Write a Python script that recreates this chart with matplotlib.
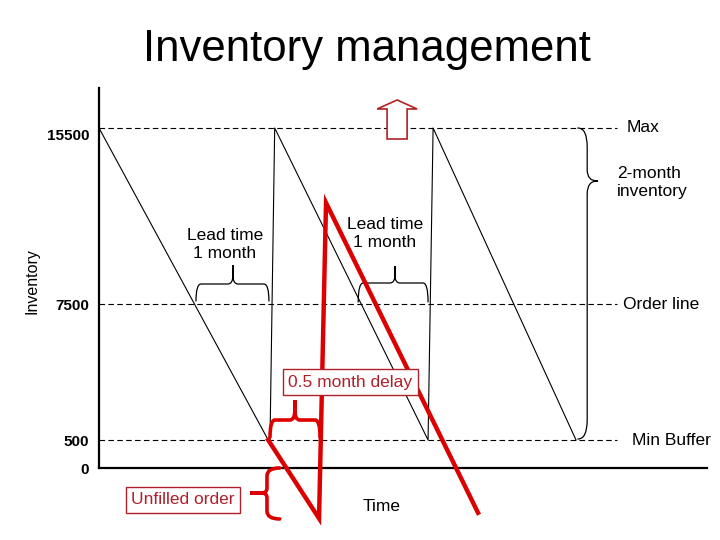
import numpy as np
import matplotlib
matplotlib.use("Agg")
import matplotlib.pyplot as plt
import matplotlib.transforms as mtransforms
from matplotlib.path import Path
from matplotlib.patches import PathPatch, FancyArrow

plt.rcParams["font.family"] = ["Liberation Sans", "DejaVu Sans"]

# ─── Data ────────────────────────────────────────────────────────────────────
# inventory levels marked on the axis
levels = [0, 500, 7500, 15500]
level_labels = ["0", "500", "7500", "15500"]
level_names = ["", "Min Buffer", "Order line", "Max"]

# the diagram's inventory axis is not linear: knots of the drawn height (px above the time axis)
scale_inv = [-2000, 0, 500, 7500, 15500, 20000]
scale_pos = [-112, 0, 28, 164, 340, 439]

# planned inventory sawtooth (time in months)
saw_t = [0, 2.35, 2.375, 2.44, 4.57, 4.64, 6.625]
saw_y = [15500, 500, 500, 15500, 500, 15500, 500]

# delayed delivery path (red)
late_t = [2.35, 3.056, 3.153, 5.264]
late_y = [500, -900, 12100, -800]

RED = "#DD0000"
DARK_RED = "#B0202A"


def fwd(y):
    return np.interp(y, scale_inv, scale_pos)


def inv(p):
    return np.interp(p, scale_pos, scale_inv)


def hbrace(ax, x0, x1, xm, y_end, y_bar, y_stem, y_tip, rx, **kw):
    verts = [(x0, y_end), (x0, y_bar), (x0 + rx, y_bar),
             (xm - rx, y_bar), (xm, y_bar), (xm, y_stem),
             (xm, y_tip), (xm, y_stem),
             (xm, y_bar), (xm + rx, y_bar),
             (x1 - rx, y_bar), (x1, y_bar), (x1, y_end)]
    codes = [Path.MOVETO, Path.CURVE3, Path.CURVE3,
             Path.LINETO, Path.CURVE3, Path.CURVE3,
             Path.LINETO, Path.LINETO,
             Path.CURVE3, Path.CURVE3,
             Path.LINETO, Path.CURVE3, Path.CURVE3]
    ax.add_patch(PathPatch(Path(verts, codes), fill=False, capstyle="round", **kw))


def vbrace(ax, x_end, x_bar, x_stem, x_tip, y_lo, y_lo_bar, y_tip_lo, y_tip, y_tip_hi, y_hi_bar, y_hi, **kw):
    verts = [(x_end, y_lo), (x_bar, y_lo), (x_bar, y_lo_bar),
             (x_bar, y_tip_lo), (x_bar, y_tip), (x_stem, y_tip),
             (x_tip, y_tip), (x_stem, y_tip),
             (x_bar, y_tip), (x_bar, y_tip_hi),
             (x_bar, y_hi_bar), (x_bar, y_hi), (x_end, y_hi)]
    codes = [Path.MOVETO, Path.CURVE3, Path.CURVE3,
             Path.LINETO, Path.CURVE3, Path.CURVE3,
             Path.LINETO, Path.LINETO,
             Path.CURVE3, Path.CURVE3,
             Path.LINETO, Path.CURVE3, Path.CURVE3]
    ax.add_patch(PathPatch(Path(verts, codes), fill=False, capstyle="round", **kw))


fig = plt.figure(figsize=(7.2, 5.4), dpi=100)
ax = fig.add_axes([99 / 720, 10 / 540, 608 / 720, 442 / 540])
ax.set_yscale("function", functions=(fwd, inv))
ax.set_xlim(0, 8.444)
ax.set_ylim(-1107, 17318)

# axes styling
for s in ["top", "right"]:
    ax.spines[s].set_visible(False)
ax.spines["bottom"].set_position(("data", 0))
ax.spines["bottom"].set_linewidth(1.6)
ax.spines["left"].set_linewidth(1.6)
ax.spines["left"].set_bounds(0, 17318)
ax.set_xticks([])
ax.set_yticks(levels)
ax.set_yticklabels(level_labels, fontsize=11, fontweight="bold")
ax.yaxis.set_minor_locator(matplotlib.ticker.NullLocator())
ax.tick_params(axis="y", length=0, pad=7)
ax.patch.set_alpha(0)
# top label sits a little under its line in the original
top_lbl = ax.get_yticklabels()[-1]
top_lbl.set_transform(top_lbl.get_transform()
                      + mtransforms.ScaledTranslation(0, -7 / 100, fig.dpi_scale_trans))

# dashed reference levels
ax.hlines(levels[1:], 0, 7.2, colors="black", linewidth=0.8, linestyles=(0, (5, 3)))
for lv, name in zip(levels[1:], level_names[1:]):
    xoff = {"Max": 7.33, "Order line": 7.28, "Min Buffer": 7.40}[name]
    ax.text(xoff, lv, name, fontsize=12.5, ha="left", va="center")

# sawtooth
ax.plot(saw_t, saw_y, color="black", linewidth=0.8)

# braces (black)
hbrace(ax, 1.347, 2.36, 1.86, 7636, 8409, 8818, 9273, 0.07, color="black", linewidth=0.9)
hbrace(ax, 3.60, 4.57, 4.11, 7591, 8455, 8818, 9227, 0.07, color="black", linewidth=0.9)
vbrace(ax, 6.65, 6.78, 6.92, 6.93, 551, 1529, 12500, 13091, 13600, 14636, 15500,
       color="black", linewidth=0.9)

ax.text(1.75, 10182, "Lead time\n1 month", fontsize=12.5, ha="center", va="center", linespacing=1.25)
ax.text(3.97, 10727, "Lead time\n1 month", fontsize=12.5, ha="center", va="center", linespacing=1.25)
ax.text(7.19, 13045, "2-month\ninventory", fontsize=12.5, ha="left", va="center", linespacing=1.25)

# delayed delivery (red)
ax.plot(late_t, late_y, color=RED, linewidth=3.2, solid_joinstyle="miter", zorder=4)
hbrace(ax, 2.375, 3.07, 2.72, 654, 1529, 2044, 2559, 0.07, color=RED, linewidth=2.6, zorder=4)
vbrace(ax, 2.51, 2.333, 2.264, 2.10, -910, -767, -535, -446, -357, -143, 0,
       color=RED, linewidth=2.6, zorder=4)

box = dict(boxstyle="square,pad=0.3", facecolor="white", edgecolor=DARK_RED, linewidth=1.0)
ax.text(3.49, 3485, "0.5 month delay", fontsize=12.5, color=DARK_RED, ha="center", va="center",
        bbox=box, zorder=5)
ax.text(1.167, -571, "Unfilled order", fontsize=12.5, color=DARK_RED, ha="center", va="center",
        bbox=box, zorder=5)

# hollow "raise max" arrow
ax.add_patch(FancyArrow(4.14, 15000, 0, 1773, width=0.278, head_width=0.556, head_length=409,
                        length_includes_head=True, facecolor="white", edgecolor="#B22222",
                        linewidth=1.2, zorder=5))

ax.text(3.93, -679, "Time", fontsize=12.5, ha="center", va="center")

fig.text(32 / 720, 1 - 281 / 540, "Inventory", rotation=90, fontsize=11.5, ha="center", va="center")
fig.text(367 / 720, 1 - 61 / 540, "Inventory management", fontsize=31.5, ha="center", va="baseline")

fig.savefig("out.png", dpi=100, facecolor="white")
